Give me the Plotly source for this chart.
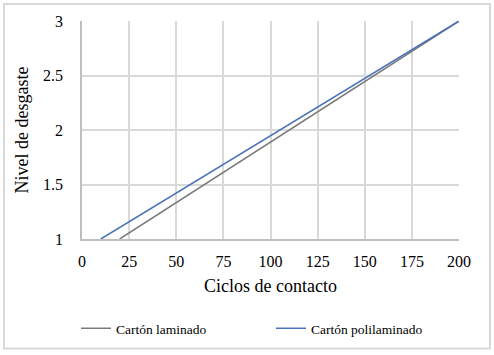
import plotly.graph_objects as go

ciclos_lam = [20, 200]
nivel_lam = [1, 3]
ciclos_poli = [10, 200]
nivel_poli = [1, 3]
x_ticks = [0, 25, 50, 75, 100, 125, 150, 175, 200]
y_ticks = [1, 1.5, 2, 2.5, 3]

L, R, T, B = 82, 35, 21, 115
W, H = 494, 355
pw, ph = W - L - R, H - T - B

def px2x(p):
    return (p - L) / pw

def py2y(p):
    return (H - B - p) / ph

SERIF = "Liberation Serif"

fig = go.Figure()
fig.add_trace(go.Scatter(x=ciclos_lam, y=nivel_lam, mode="lines", name="Cartón laminado",
                         line=dict(color="#7a7a7a", width=1.5)))
fig.add_trace(go.Scatter(x=ciclos_poli, y=nivel_poli, mode="lines", name="Cartón polilaminado",
                         line=dict(color="#4a72b8", width=1.5)))

fig.update_layout(
    width=W, height=H,
    margin=dict(l=L, r=R, t=T, b=B),
    paper_bgcolor="white", plot_bgcolor="white",
    font=dict(family=SERIF, color="#000000", size=16),
    xaxis=dict(range=[0, 200], tickvals=x_ticks, showgrid=True, gridcolor="#d9d9d9", gridwidth=1.5,
               showline=True, linecolor="#bfbfbf", linewidth=1.5, zeroline=False,
               ticks="", ticklabelstandoff=7,
               tickfont=dict(family=SERIF, size=16, color="#000000"),
               title=dict(text="Ciclos de contacto", font=dict(family=SERIF, size=18), standoff=10)),
    yaxis=dict(range=[1, 3], tickvals=y_ticks, showgrid=True, gridcolor="#d9d9d9", gridwidth=1.5,
               showline=True, linecolor="#bfbfbf", linewidth=1.5, zeroline=False,
               ticks="", ticklabelstandoff=14,
               tickfont=dict(family=SERIF, size=16, color="#000000"),
               title=dict(text="Nivel de desgaste", font=dict(family=SERIF, size=18), standoff=10)),
    legend=dict(orientation="h", x=px2x(76), y=py2y(313), xanchor="left", yanchor="top",
                font=dict(family=SERIF, size=13.5, color="#000000"), entrywidth=150, entrywidthmode="pixels",
                bgcolor="rgba(0,0,0,0)"),
    showlegend=True,
)

fig.add_shape(type="rect", xref="paper", yref="paper",
              x0=px2x(4), x1=px2x(490), y0=py2y(350), y1=py2y(4),
              line=dict(color="#d9d9d9", width=2), fillcolor="rgba(0,0,0,0)", layer="above")

fig.write_html("out.html", config={"displayModeBar": False},
               post_script="document.body.style.margin='0';")
